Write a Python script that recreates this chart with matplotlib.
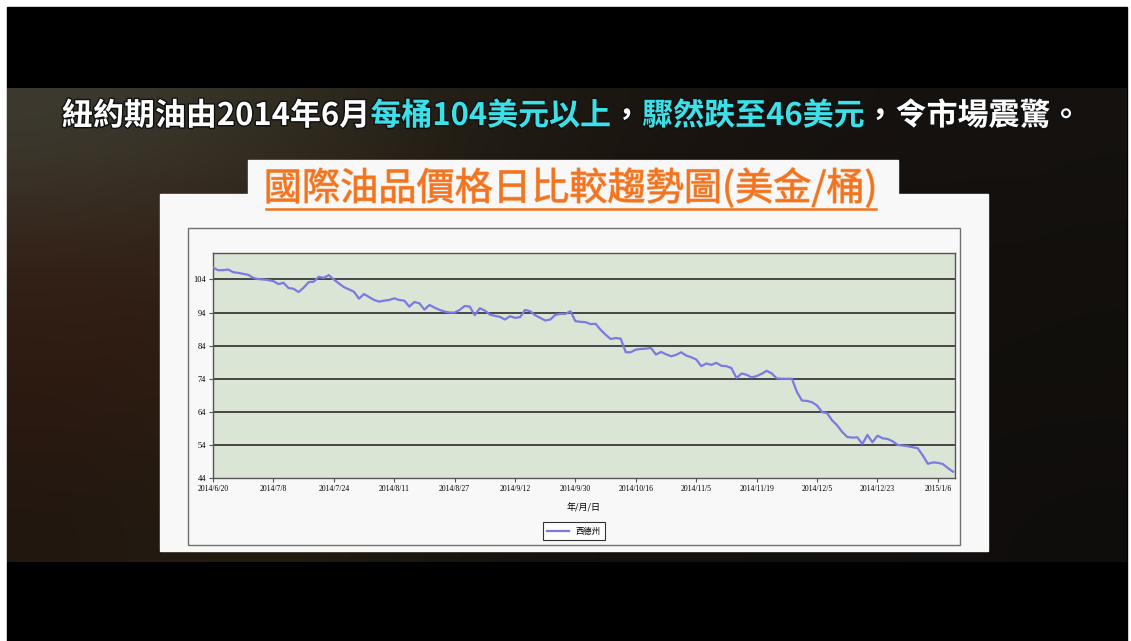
import matplotlib
matplotlib.use('Agg')
import matplotlib.pyplot as plt
import matplotlib.patheffects as pe
from matplotlib.patches import Rectangle
import numpy as np

plt.rcParams['font.family'] = ['Noto Sans CJK TC', 'DejaVu Sans']

# WTI daily price (USD/bbl), trading days 2014/6/20 .. 2015/1
wti_price = [
    107.6, 106.8, 106.8, 107.0, 106.2, 106.0, 105.7, 105.4, 104.5, 104.1,
    104.0, 103.8, 103.5, 102.6, 103.0, 101.4, 101.2, 100.2, 101.5, 103.2,
    103.3, 104.8, 104.5, 105.3, 104.0, 102.8, 101.7, 101.0, 100.3, 98.2,
    99.6, 98.7, 97.8, 97.3, 97.6, 97.8, 98.3, 97.8, 97.6, 95.8,
    97.2, 96.8, 94.9, 96.3, 95.5, 94.8, 94.3, 94.0, 94.0, 94.8,
    96.0, 95.8, 93.2, 95.3, 94.6, 93.4, 93.0, 92.7, 91.9, 92.9,
    92.4, 92.6, 94.8, 94.4, 93.2, 92.4, 91.6, 91.9, 93.3, 93.6,
    93.6, 94.4, 91.4, 91.2, 91.1, 90.5, 90.6, 88.8, 87.3, 86.0,
    86.3, 86.1, 82.0, 82.0, 82.8, 83.0, 83.1, 83.3, 81.3, 82.1,
    81.4, 80.8, 81.2, 82.0, 81.0, 80.5, 79.8, 77.8, 78.6, 78.2,
    78.8, 77.9, 77.8, 77.2, 74.2, 75.6, 75.2, 74.4, 74.8, 75.5,
    76.4, 75.6, 74.1, 74.0, 74.0, 74.0, 70.0, 67.4, 67.3, 66.9,
    65.9, 63.9, 63.6, 61.4, 59.9, 57.9, 56.4, 56.2, 56.3, 54.3,
    57.0, 54.8, 56.8, 56.0, 55.8, 55.1, 54.0, 53.8, 53.6, 53.3,
    53.0, 50.8, 48.3, 48.7, 48.6, 48.2, 47.0, 45.9,
]
date_labels = ['2014/6/20', '2014/7/8', '2014/7/24', '2014/8/11', '2014/8/27',
               '2014/9/12', '2014/9/30', '2014/10/16', '2014/11/5', '2014/11/19',
               '2014/12/5', '2014/12/23', '2015/1/6']
y_ticks = [44, 54, 64, 74, 84, 94, 104]
series_name = '西德州'

caption_parts = [('紐約期油由2014年6月', 'white'), ('每桶104美元以上', '#3ee0e8'),
                 ('，', 'white'), ('驟然跌至46美元', '#3ee0e8'), ('，令市場震驚。', 'white')]
chart_title = '國際油品價格日比較趨勢圖(美金/桶)'

W, H = 1131, 641
fig = plt.figure(figsize=(W / 100, H / 100), dpi=100, facecolor='white')

# background layer in pixel coordinates
bg = fig.add_axes([0, 0, 1, 1])
bg.set_xlim(0, W)
bg.set_ylim(H, 0)
bg.axis('off')
bg.add_patch(Rectangle((7, 7), W - 11, H - 7, color='black', zorder=0))

# dim textured video background (smooth colour blend)
tex = np.array([
    [[0.24, 0.23, 0.19], [0.20, 0.18, 0.13], [0.13, 0.11, 0.08], [0.10, 0.08, 0.06], [0.09, 0.07, 0.06], [0.08, 0.07, 0.06]],
    [[0.20, 0.12, 0.08], [0.18, 0.12, 0.07], [0.12, 0.09, 0.06], [0.09, 0.07, 0.05], [0.08, 0.06, 0.05], [0.07, 0.06, 0.05]],
    [[0.18, 0.10, 0.07], [0.17, 0.13, 0.07], [0.10, 0.08, 0.05], [0.08, 0.06, 0.05], [0.07, 0.06, 0.05], [0.07, 0.06, 0.05]],
    [[0.13, 0.09, 0.06], [0.14, 0.12, 0.07], [0.09, 0.07, 0.05], [0.07, 0.06, 0.05], [0.07, 0.06, 0.05], [0.06, 0.05, 0.05]],
])
bg.imshow(tex, extent=(7, W - 4, 562, 88), interpolation='bicubic', aspect='auto', zorder=1)

# caption line
txt = None
for s, c in caption_parts:
    kw = dict(color=c, fontsize=22.3, fontweight='bold', zorder=5,
              path_effects=[pe.withStroke(linewidth=2, foreground='#101010')])
    if txt is None:
        txt = bg.text(62, 116, s, ha='left', va='center', **kw)
    else:
        txt = bg.annotate(s, xy=(1, 0), xycoords=txt, ha='left', va='bottom', **kw)

# white card and title tab
bg.add_patch(Rectangle((160, 194), 828, 357, color='#f8f8f8', zorder=2))
bg.add_patch(Rectangle((248, 160), 650, 40, color='#f8f8f8', zorder=2))
bg.add_patch(Rectangle((188, 228), 772, 317, fill=False, edgecolor='#707070', lw=1.0, zorder=3))
title = bg.text(571, 189, chart_title, ha='center', va='center', fontsize=27.5,
                color='#f27420', zorder=5,
                path_effects=[pe.withStroke(linewidth=0.8, foreground='#f9a060')])
fig.canvas.draw()
tb = title.get_window_extent().transformed(bg.transData.inverted())
bg.plot([tb.x0 + 2, tb.x1 - 2], [209, 209], color='#f27420', lw=1.8, zorder=5)

# chart
x0, x1, y0, y1 = 213, 955, 253, 478
ax = fig.add_axes([x0 / W, 1 - y1 / H, (x1 - x0) / W, (y1 - y0) / H])
ax.set_facecolor('#dbe5d6')
ax.set_zorder(4)
idx = np.arange(len(wti_price))
for v in y_ticks[1:]:
    ax.axhline(v, color='#3a3a3a', lw=1.3, zorder=1)
ax.plot(idx, wti_price, color='#7a7ae0', lw=1.6, zorder=3, label=series_name)
ax.set_xlim(0, len(wti_price) - 0.6)
ax.set_ylim(44, 112)
ax.set_yticks(y_ticks)
ax.set_yticklabels([str(v) for v in y_ticks], family='Liberation Serif', fontsize=6)
ax.set_xticks(np.arange(len(date_labels)) * 12)
ax.set_xticklabels(date_labels, family='Liberation Serif', fontsize=5.5)
ax.tick_params(length=3, width=0.8, color='#555555', pad=2)
for sp in ax.spines.values():
    sp.set_color('#555555')
    sp.set_linewidth(1.0)
ax.set_xlabel('年/月/日', fontsize=6.5, labelpad=7)
leg = fig.legend(loc='center', bbox_to_anchor=(574 / W, 1 - 531 / H), fontsize=6,
                 frameon=True, fancybox=False, edgecolor='black', handlelength=2.6,
                 borderpad=0.5)
leg.get_frame().set_linewidth(0.8)
leg.set_zorder(6)

fig.savefig('out.png', dpi=100, facecolor=fig.get_facecolor())
